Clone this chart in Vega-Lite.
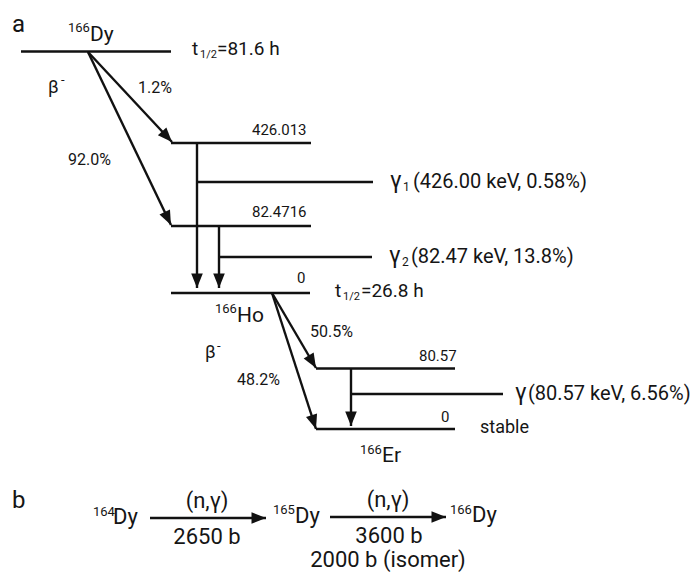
{
  "$schema": "https://vega.github.io/schema/vega-lite/v6.json",
  "width": 695,
  "height": 575,
  "autosize": {"type": "fit", "contains": "padding"},
  "padding": 0,
  "background": "white",
  "config": {"view": {"stroke": null}},
  "datasets": {
    "segs": [
      {"x": 21, "y": 51.5, "x2": 171, "y2": 51.5, "arrow": false},
      {"x": 88, "y": 52, "x2": 172, "y2": 142, "arrow": true},
      {"x": 88, "y": 52, "x2": 171, "y2": 225, "arrow": true},
      {"x": 171, "y": 143, "x2": 311, "y2": 143, "arrow": false},
      {"x": 197, "y": 143, "x2": 197, "y2": 288, "arrow": true},
      {"x": 197, "y": 182, "x2": 373, "y2": 182, "arrow": false},
      {"x": 171, "y": 226, "x2": 311, "y2": 226, "arrow": false},
      {"x": 219, "y": 226, "x2": 219, "y2": 288, "arrow": true},
      {"x": 219, "y": 257, "x2": 372, "y2": 257, "arrow": false},
      {"x": 171, "y": 293, "x2": 310, "y2": 293, "arrow": false},
      {"x": 272, "y": 293, "x2": 316, "y2": 368, "arrow": true},
      {"x": 272, "y": 293, "x2": 316, "y2": 429, "arrow": true},
      {"x": 316, "y": 368.5, "x2": 455, "y2": 368.5, "arrow": false},
      {"x": 351, "y": 368, "x2": 351, "y2": 426, "arrow": true},
      {"x": 351, "y": 394, "x2": 503, "y2": 394, "arrow": false},
      {"x": 316, "y": 429, "x2": 455, "y2": 429, "arrow": false},
      {"x": 150, "y": 518, "x2": 266, "y2": 518, "arrow": true},
      {"x": 330, "y": 517, "x2": 446, "y2": 517, "arrow": true}
    ],
    "labels": [
      {"x": 12, "y": 32, "t": "a", "k": "panel"},
      {"x": 12, "y": 508, "t": "b", "k": "panel"},
      {"x": 68, "y": 32, "t": "166", "k": "sup"},
      {"x": 90, "y": 41, "t": "Dy", "k": "nuc"},
      {"x": 215, "y": 313, "t": "166", "k": "sup"},
      {"x": 237, "y": 322, "t": "Ho", "k": "nuc"},
      {"x": 360, "y": 454, "t": "166", "k": "sup"},
      {"x": 382, "y": 462, "t": "Er", "k": "nuc"},
      {"x": 93, "y": 516, "t": "164", "k": "sup"},
      {"x": 113, "y": 524, "t": "Dy", "k": "nucb"},
      {"x": 273, "y": 514, "t": "165", "k": "sup"},
      {"x": 295, "y": 523, "t": "Dy", "k": "nucb"},
      {"x": 450, "y": 514, "t": "166", "k": "sup"},
      {"x": 472, "y": 522, "t": "Dy", "k": "nucb"},
      {"x": 192, "y": 55, "t": "t", "k": "half"},
      {"x": 200, "y": 58, "t": "1/2", "k": "sub"},
      {"x": 217, "y": 55, "t": "=81.6 h", "k": "half"},
      {"x": 335, "y": 297, "t": "t", "k": "half"},
      {"x": 343, "y": 300, "t": "1/2", "k": "sub"},
      {"x": 361, "y": 297, "t": "=26.8 h", "k": "half"},
      {"x": 48, "y": 93, "t": "β", "k": "beta"},
      {"x": 61, "y": 84, "t": "-", "k": "minus"},
      {"x": 205, "y": 358, "t": "β", "k": "beta"},
      {"x": 217, "y": 350, "t": "-", "k": "minus"},
      {"x": 138, "y": 93, "t": "1.2%", "k": "pct"},
      {"x": 68, "y": 165, "t": "92.0%", "k": "pct"},
      {"x": 310, "y": 337, "t": "50.5%", "k": "pct"},
      {"x": 237, "y": 385, "t": "48.2%", "k": "pct"},
      {"x": 252, "y": 135, "t": "426.013", "k": "lvl"},
      {"x": 252, "y": 217, "t": "82.4716", "k": "lvl"},
      {"x": 297, "y": 283, "t": "0", "k": "lvl"},
      {"x": 419, "y": 361, "t": "80.57", "k": "lvl"},
      {"x": 441, "y": 422, "t": "0", "k": "lvl"},
      {"x": 390, "y": 188, "t": "γ", "k": "gsym"},
      {"x": 403, "y": 191, "t": "1", "k": "gsub"},
      {"x": 413, "y": 188, "t": "(426.00 keV, 0.58%)", "k": "gam"},
      {"x": 389, "y": 263, "t": "γ", "k": "gsym"},
      {"x": 402, "y": 266, "t": "2", "k": "gsub"},
      {"x": 411, "y": 263, "t": "(82.47 keV, 13.8%)", "k": "gam"},
      {"x": 515, "y": 400, "t": "γ", "k": "gsym"},
      {"x": 528, "y": 400, "t": "(80.57 keV, 6.56%)", "k": "gam"},
      {"x": 480, "y": 433, "t": "stable", "k": "stab"},
      {"x": 207, "y": 508, "t": "(n,γ)", "k": "rx"},
      {"x": 207, "y": 544, "t": "2650 b", "k": "rx"},
      {"x": 388, "y": 507, "t": "(n,γ)", "k": "rx"},
      {"x": 389, "y": 543, "t": "3600 b", "k": "rx"},
      {"x": 388, "y": 567, "t": "2000 b (isomer)", "k": "rx"}
    ]
  },
  "layer": [
    {
      "data": {"name": "segs"},
      "mark": {"type": "rule", "color": "#111111", "strokeWidth": 2.4},
      "encoding": {
        "x": {"field": "x", "type": "quantitative", "scale": {"domain": [0, 695], "nice": false, "zero": false}, "axis": null},
        "y": {"field": "y", "type": "quantitative", "scale": {"domain": [0, 575], "nice": false, "zero": false, "reverse": true}, "axis": null},
        "x2": {"field": "x2"},
        "y2": {"field": "y2"}
      }
    },
    {
      "data": {"name": "segs"},
      "transform": [
        {"filter": "datum.arrow"},
        {"calculate": "atan2(-(datum.x2 - datum.x), datum.y2 - datum.y) * 180 / PI", "as": "ang"}
      ],
      "mark": {"type": "point", "shape": "M0,0L-0.8,-2L0.8,-2Z", "filled": true, "color": "#111111", "opacity": 1, "size": 210, "strokeWidth": 0},
      "encoding": {
        "x": {"field": "x2", "type": "quantitative"},
        "y": {"field": "y2", "type": "quantitative"},
        "angle": {"field": "ang", "type": "quantitative", "scale": null}
      }
    },
    {
      "data": {"name": "labels"},
      "transform": [{"filter": "datum.k != 'rx'"}],
      "mark": {"type": "text", "align": "left", "baseline": "alphabetic", "font": "Roboto", "color": "#151515"},
      "encoding": {
        "x": {"field": "x", "type": "quantitative"},
        "y": {"field": "y", "type": "quantitative"},
        "text": {"field": "t"},
        "size": {
          "field": "k", "type": "ordinal", "legend": null,
          "scale": {"type": "ordinal",
            "domain": ["panel", "nuc", "nucb", "sup", "half", "sub", "pct", "lvl", "gam", "gsub", "beta", "minus", "stab", "gsym"],
            "range": [24, 21, 22, 13, 19, 11, 16, 15, 20, 12, 18, 13, 18, 23]}
        }
      }
    },
    {
      "data": {"name": "labels"},
      "transform": [{"filter": "datum.k == 'rx'"}],
      "mark": {"type": "text", "align": "center", "baseline": "alphabetic", "font": "Roboto", "fontSize": 22, "color": "#151515"},
      "encoding": {
        "x": {"field": "x", "type": "quantitative"},
        "y": {"field": "y", "type": "quantitative"},
        "text": {"field": "t"}
      }
    }
  ]
}
